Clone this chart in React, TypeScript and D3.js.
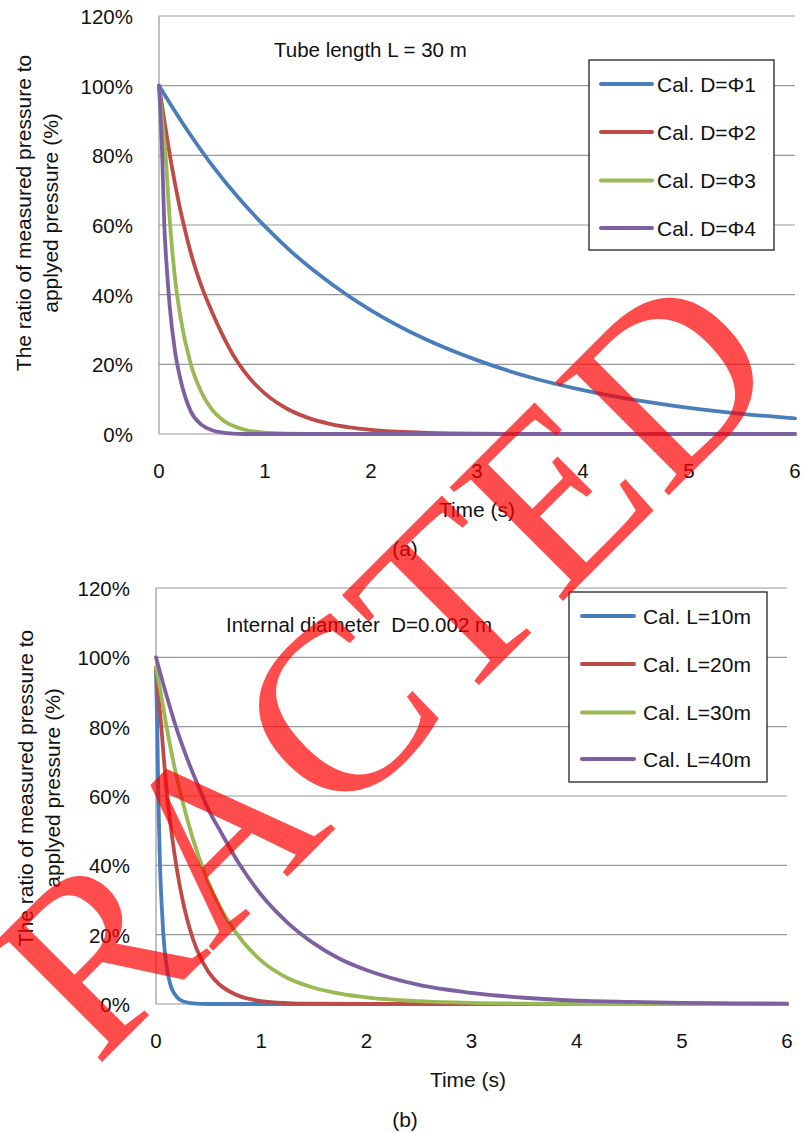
import React from "react";
import * as d3 from "d3";

// ---------- data ----------
const X_TICKS = [0, 1, 2, 3, 4, 5, 6];
const Y_TICKS = [0, 20, 40, 60, 80, 100, 120];

// Panel (a): tube length L = 30 m
const timeA1 = [0, 0.25, 0.5, 0.75, 1, 1.25, 1.5, 1.75, 2, 2.5, 3, 3.5, 4, 4.5, 5, 5.5, 6];
const calD1 = [100, 88, 77.2, 67.8, 59.6, 52.3, 46, 40.4, 35.5, 27.4, 21.2, 16.3, 12.6, 9.7, 7.5, 5.8, 4.5];
const timeA2 = [0, 0.05, 0.1, 0.15, 0.2, 0.25, 0.3, 0.4, 0.5, 0.6, 0.7, 0.8, 0.9, 1, 1.2, 1.4, 1.6, 1.8, 2, 2.5, 3, 3.5, 4, 5, 6];
const calD2 = [100, 90, 80.5, 72, 64.5, 58, 52, 42.5, 35, 28.4, 22.7, 18.1, 14.5, 11.6, 7.4, 4.7, 3.0, 1.9, 1.2, 0.4, 0.12, 0.04, 0, 0, 0];
const timeA3 = [0, 0.03, 0.06, 0.1, 0.15, 0.2, 0.3, 0.4, 0.5, 0.6, 0.8, 1, 1.25, 1.5, 2, 3, 4, 5, 6];
const calD3 = [100, 90, 81, 62, 45, 34, 20, 12, 7, 4, 1.3, 0.4, 0.1, 0, 0, 0, 0, 0, 0];
const timeA4 = [0, 0.02, 0.03, 0.05, 0.075, 0.1, 0.15, 0.2, 0.3, 0.4, 0.5, 0.6, 0.7, 0.8, 1, 2, 3, 4, 5, 6];
const calD4 = [100, 88, 80, 60, 47, 37, 24, 16, 6.5, 2.7, 1.1, 0.4, 0.1, 0, 0, 0, 0, 0, 0, 0];

// Panel (b): internal diameter D = 0.002 m
const timeB1 = [0, 0.012, 0.022, 0.038, 0.055, 0.07, 0.1, 0.133, 0.2, 0.26, 0.35, 0.5, 1, 2, 3, 4, 5, 6];
const calL10 = [96, 80, 60, 40, 28, 20, 11, 6, 2, 0.7, 0.2, 0, 0, 0, 0, 0, 0, 0];
const timeB2 = [0, 0.05, 0.1, 0.15, 0.2, 0.25, 0.3, 0.35, 0.4, 0.5, 0.6, 0.7, 0.8, 1, 1.25, 1.5, 2, 3, 4, 5, 6];
const calL20 = [97, 80, 62, 49, 38.6, 30.4, 24, 18.9, 14.9, 9.2, 5.7, 3.6, 2.2, 0.85, 0.26, 0.08, 0, 0, 0, 0, 0];
const timeB3 = [0, 0.05, 0.1, 0.2, 0.3, 0.4, 0.5, 0.6, 0.75, 1, 1.25, 1.5, 1.75, 2, 2.5, 3, 3.5, 4, 5, 6];
const calL30 = [97, 89, 80, 65, 53, 43, 35, 28.5, 21, 12.5, 7.5, 4.7, 3, 1.9, 0.8, 0.3, 0.1, 0, 0, 0];
const timeB4 = [0, 0.1, 0.2, 0.3, 0.4, 0.5, 0.6, 0.8, 1, 1.25, 1.5, 1.75, 2, 2.5, 3, 3.5, 4, 4.5, 5, 5.5, 6];
const calL40 = [100, 89, 79, 70.5, 63, 56, 50.5, 40, 31.5, 23.5, 17.5, 13, 9.8, 5.5, 3.2, 1.8, 1.0, 0.6, 0.3, 0.2, 0.1];

const namesA = ["Cal. D=Φ1", "Cal. D=Φ2", "Cal. D=Φ3", "Cal. D=Φ4"];
const namesB = ["Cal. L=10m", "Cal. L=20m", "Cal. L=30m", "Cal. L=40m"];
const COLORS = ["#4A7EBB", "#BE4B48", "#98B954", "#7D60A0"];

const FONT = "'Liberation Sans', Arial, sans-serif";
const GRID = "#979797";

type Series = { name: string; t: number[]; v: number[]; color: string };

type PanelProps = {
  left: number; right: number; top: number; bottom: number;
  series: Series[];
  title: string; titleX: number; titleY: number;
  legend: { x: number; y: number; w: number; h: number; lineX0: number; lineX1: number; textX: number; rows: number[] };
  caption: string; captionX: number; captionY: number;
  yLabelCenter: number; yLabelX1: number; yLabelX2: number;
  xTitleX: number;
};

function Panel(p: PanelProps) {
  const x = d3.scaleLinear().domain([0, 6]).range([p.left, p.right]);
  const y = d3.scaleLinear().domain([0, 120]).range([p.bottom, p.top]);
  const line = d3
    .line<[number, number]>()
    .x((d) => x(d[0]))
    .y((d) => y(d[1]))
    .curve(d3.curveMonotoneX);
  return (
    <g>
      {Y_TICKS.map((t) => (
        <g key={t}>
          <line x1={p.left} x2={p.right} y1={y(t)} y2={y(t)} stroke={GRID} strokeWidth={1.2} />
          <text x={p.left - 26} y={y(t) + 8} textAnchor="end" fontFamily={FONT} fontSize={20.5} fill="#111">
            {t + "%"}
          </text>
        </g>
      ))}
      <line x1={p.left} x2={p.left} y1={p.top} y2={p.bottom} stroke={GRID} strokeWidth={1.2} />
      {X_TICKS.map((t) => (
        <text key={t} x={x(t)} y={p.bottom + 44} textAnchor="middle" fontFamily={FONT} fontSize={20.5} fill="#111">
          {t}
        </text>
      ))}
      {p.series.map((s) => (
        <path
          key={s.name}
          d={line(s.t.map((tt, i) => [tt, s.v[i]] as [number, number])) || ""}
          fill="none"
          stroke={s.color}
          strokeWidth={3.8}
          strokeLinejoin="round"
          strokeLinecap="round"
        />
      ))}
      <text x={p.titleX} y={p.titleY} fontFamily={FONT} fontSize={20.5} fill="#111" style={{ whiteSpace: "pre" }}>
        {p.title}
      </text>
      <rect x={p.legend.x} y={p.legend.y} width={p.legend.w} height={p.legend.h} fill="#fff" stroke="#222" strokeWidth={1.3} />
      {p.series.map((s, i) => (
        <g key={s.name}>
          <line
            x1={p.legend.lineX0}
            x2={p.legend.lineX1}
            y1={p.legend.rows[i]}
            y2={p.legend.rows[i]}
            stroke={s.color}
            strokeWidth={4}
            strokeLinecap="round"
          />
          <text x={p.legend.textX} y={p.legend.rows[i] + 7.5} fontFamily={FONT} fontSize={21} fill="#111">
            {s.name}
          </text>
        </g>
      ))}
      <text
        transform={`translate(${p.yLabelX1},${p.yLabelCenter}) rotate(-90)`}
        textAnchor="middle"
        fontFamily={FONT}
        fontSize={21}
        fill="#111"
      >
        The ratio of measured pressure to
      </text>
      <text
        transform={`translate(${p.yLabelX2},${p.yLabelCenter}) rotate(-90)`}
        textAnchor="middle"
        fontFamily={FONT}
        fontSize={21}
        fill="#111"
      >
        applyed pressure (%)
      </text>
      <text x={p.xTitleX} y={p.bottom + 83} textAnchor="middle" fontFamily={FONT} fontSize={21} fill="#111">
        Time (s)
      </text>
      <text x={p.captionX} y={p.captionY} textAnchor="middle" fontFamily={FONT} fontSize={21} fill="#111">
        {p.caption}
      </text>
    </g>
  );
}

export default function App() {
  const seriesA: Series[] = [
    { name: namesA[0], t: timeA1, v: calD1, color: COLORS[0] },
    { name: namesA[1], t: timeA2, v: calD2, color: COLORS[1] },
    { name: namesA[2], t: timeA3, v: calD3, color: COLORS[2] },
    { name: namesA[3], t: timeA4, v: calD4, color: COLORS[3] },
  ];
  const seriesB: Series[] = [
    { name: namesB[0], t: timeB1, v: calL10, color: COLORS[0] },
    { name: namesB[1], t: timeB2, v: calL20, color: COLORS[1] },
    { name: namesB[2], t: timeB3, v: calL30, color: COLORS[2] },
    { name: namesB[3], t: timeB4, v: calL40, color: COLORS[3] },
  ];
  return (
    <svg
      width={806}
      height={1133}
      viewBox="0 0 806 1133"
      style={{ position: "absolute", left: 0, top: 0, display: "block", background: "#fff" }}
    >
      <rect x={0} y={0} width={806} height={1133} fill="#fff" />
      <Panel
        left={159}
        right={795}
        top={16}
        bottom={434}
        series={seriesA}
        title="Tube length L = 30 m"
        titleX={274}
        titleY={57}
        legend={{ x: 589, y: 60, w: 185, h: 190, lineX0: 601, lineX1: 652, textX: 657, rows: [84, 132, 180.5, 228] }}
        caption="(a)"
        captionX={405}
        captionY={556}
        yLabelCenter={213}
        yLabelX1={31}
        yLabelX2={58}
        xTitleX={477}
      />
      <Panel
        left={156}
        right={787}
        top={588}
        bottom={1004}
        series={seriesB}
        title="Internal diameter  D=0.002 m"
        titleX={226}
        titleY={632}
        legend={{ x: 569, y: 592, w: 198, h: 190, lineX0: 582, lineX1: 634, textX: 643, rows: [616, 664, 712.5, 759] }}
        caption="(b)"
        captionX={405}
        captionY={1127}
        yLabelCenter={788}
        yLabelX1={33}
        yLabelX2={60}
        xTitleX={468}
      />
      <text
        transform="translate(96,1068) rotate(-45)"
        fontFamily="'Liberation Serif', 'Times New Roman', serif"
        fontSize={245}
        fill="rgb(255,0,0)"
        fillOpacity={0.7}
      >
        RACTED
      </text>
    </svg>
  );
}
